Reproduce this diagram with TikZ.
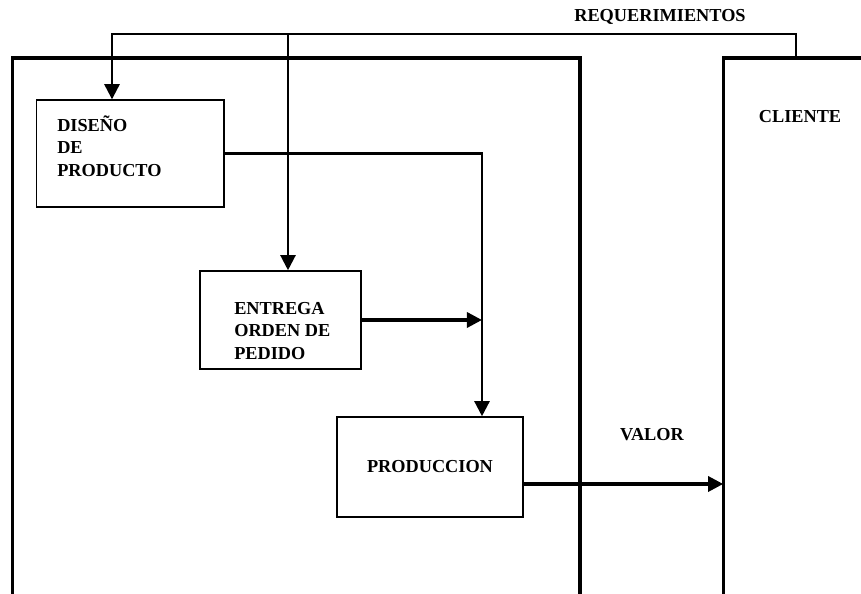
\documentclass[tikz,border=0pt]{standalone}
\usepackage{fontspec}
\setmainfont{Liberation Serif}
\usetikzlibrary{arrows.meta}
\definecolor{FlowInk}{HTML}{000000}

\begin{document}
\begin{tikzpicture}[line join=miter,font=\bfseries\fontsize{13}{16}\selectfont,
  muro/.style={draw=FlowInk,line width=2.2pt},
  proc/.style={draw=FlowInk,line width=1.1pt,inner sep=0pt},
  rotulo/.style={text=FlowInk,align=left,inner sep=0pt},
  flujo/.style={-{Triangle[length=3.8mm,width=3.8mm]},draw=FlowInk,line width=1.7pt}]
  \useasboundingbox (0,0) rectangle (21.525,14.85);
  \draw[muro] (0.31,0) -- (0.31,13.4) -- (14.5,13.4) -- (14.5,0);
  \draw[muro] (18.08,0) -- (18.08,13.4) -- (21.6,13.4);
  \node[proc,minimum width=4.69cm,minimum height=2.675cm] (diseno) at (3.26,11.01) {};
  \node[rotulo,anchor=west] (diseno-txt) at (1.425,11.2) {DISEÑO\\DE\\PRODUCTO};
  \node[proc,minimum width=4.025cm,minimum height=2.45cm] (entrega) at (7.01,6.85) {};
  \node[rotulo,anchor=west] (entrega-txt) at (5.85,6.575) {ENTREGA\\ORDEN DE\\PEDIDO};
  \node[proc,minimum width=4.65cm,minimum height=2.5cm] (prod) at (10.75,3.175) {PRODUCCION};
  \node[rotulo] (req) at (16.5,14.425) {REQUERIMIENTOS};
  \node[rotulo] (cliente) at (20.0,11.925) {CLIENTE};
  \node[rotulo] (valor) at (16.3,3.975) {VALOR};
  \coordinate (req-sal) at (19.9,13.4);
  \coordinate (req-esq) at (2.8,14.0);
  \coordinate (bifurca) at (7.2,14.0);
  \coordinate (union) at (12.05,6.85);
  \coordinate (valor-in) at (18.08,2.75);
  \draw[flujo,line width=1.6pt] (req-sal) |- (req-esq) -- (req-esq |- diseno.north);
  \draw[flujo,line width=1.6pt] (bifurca) -- (bifurca |- entrega.north);
  \draw[flujo] (diseno.east) -| (union |- prod.north);
  \draw[flujo,line width=2.3pt] (entrega.east) -- (union);
  \draw[flujo,line width=2.2pt] (prod.east |- valor-in) -- (valor-in);
\end{tikzpicture}
\end{document}
